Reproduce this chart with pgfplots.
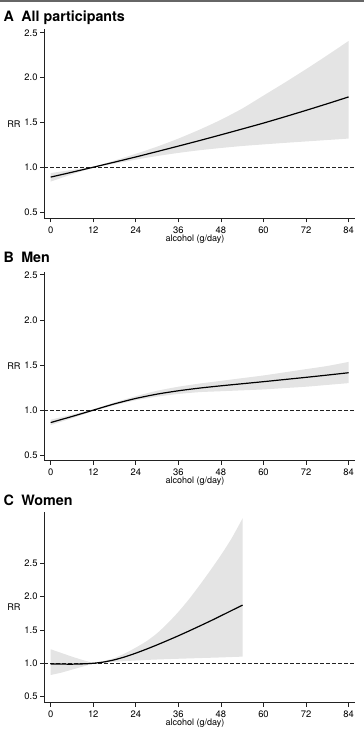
\documentclass[border=0pt]{standalone}
\usepackage{fontspec}
\setmainfont{TeX Gyre Heros}
\usepackage{pgfplots}
\pgfplotsset{compat=1.18}
\usepgfplotslibrary{fillbetween}
\definecolor{band}{HTML}{E4E4E4}
\definecolor{axcol}{HTML}{222222}
\pgfplotsset{
  panel/.style={
    scale only axis, width=310.7pt,
    xmin=-1.8, xmax=85.8,
    axis x line*=bottom, axis y line*=left,
    axis line style={line width=0.8pt, axcol, -},
    xtick={0,12,...,84},
    ytick={0.5,1.0,1.5,2.0,2.5},
    tick align=outside, major tick length=4pt,
    tick style={line width=0.8pt, axcol},
    /pgf/number format/assume math mode=true,
    tick label style={font=\fontsize{9.4}{10}\selectfont},
    y tick label style={/pgf/number format/fixed, /pgf/number format/fixed zerofill, /pgf/number format/precision=1},
    xticklabel style={anchor=north, inner sep=0pt, yshift=-4.4pt},
    yticklabel style={anchor=east, inner sep=0pt, xshift=-2.6pt},
    xlabel={alcohol (g/day)},
    xlabel style={at={(rel axis cs:0.485,0)}, anchor=base, yshift=-23.2pt, font=\fontsize{9}{10}\selectfont},
    ylabel={RR},
    ylabel style={rotate=-90, at={(rel axis cs:0,0.5)}, anchor=center, xshift=-30.3pt, font=\fontsize{9.2}{10}\selectfont},
    clip=false,
  },
  ci/.style={draw=none, smooth, tension=0.4},
  est/.style={black, line width=1.2pt, smooth, tension=0.4},
  ref/.style={axcol, line width=0.8pt, dash pattern=on 3.5pt off 2.5pt},
}
\begin{document}
\begin{tikzpicture}[x=1pt,y=1pt]
\path (0,0) rectangle (364,739);
\fill[black!60] (0,737.4) rectangle (364,739);

% Panel A
\begin{axis}[panel, at={(44.3pt,520.7pt)}, anchor=south west, height=189pt, ymin=0.43, ymax=2.54]
\addplot[ci, name path=up] coordinates {(0,0.935) (6,0.97) (12,1.005) (18,1.075) (24,1.15) (30,1.23) (36,1.32) (42,1.42) (48,1.53) (54,1.655) (60,1.80) (66,1.945) (72,2.095) (78,2.25) (84,2.41)};
\addplot[ci, name path=lo] coordinates {(0,0.84) (6,0.92) (12,0.995) (18,1.04) (24,1.085) (30,1.125) (36,1.16) (42,1.19) (48,1.215) (54,1.237) (60,1.255) (66,1.272) (72,1.288) (78,1.304) (84,1.32)};
\addplot[band] fill between[of=up and lo];
\addplot[ref] coordinates {(-1.8,1) (85.8,1)};
\addplot[est] coordinates {(0,0.89) (6,0.9445) (12,1.0) (18,1.057) (24,1.115) (30,1.175) (36,1.236) (42,1.298) (48,1.362) (54,1.427) (60,1.493) (66,1.563) (72,1.635) (78,1.709) (84,1.785)};
\end{axis}

% Panel B
\begin{axis}[panel, at={(44.3pt,278.3pt)}, anchor=south west, height=189pt, ymin=0.44, ymax=2.535]
\addplot[ci, name path=up] coordinates {(0,0.895) (6,0.95) (12,1.01) (18,1.085) (24,1.155) (30,1.215) (36,1.26) (42,1.295) (48,1.325) (54,1.355) (60,1.385) (66,1.42) (72,1.455) (78,1.49) (84,1.535)};
\addplot[ci, name path=lo] coordinates {(0,0.835) (6,0.91) (12,0.99) (18,1.055) (24,1.11) (30,1.15) (36,1.18) (42,1.20) (48,1.21) (54,1.22) (60,1.23) (66,1.245) (72,1.26) (78,1.28) (84,1.30)};
\addplot[band] fill between[of=up and lo];
\addplot[ref] coordinates {(-1.8,1) (85.8,1)};
\addplot[est] coordinates {(0,0.863) (6,0.93) (12,1.0) (18,1.07) (24,1.13) (30,1.178) (36,1.215) (42,1.245) (48,1.27) (54,1.293) (60,1.316) (66,1.34) (72,1.364) (78,1.389) (84,1.415)};
\end{axis}

% Panel C
\begin{axis}[panel, at={(44.3pt,36.3pt)}, anchor=south west, height=191pt, ymin=0.41, ymax=3.27]
\addplot[ci, name path=up] coordinates {(0,1.21) (3,1.155) (6,1.10) (9,1.05) (12,1.01) (15,1.035) (18,1.08) (21,1.15) (24,1.235) (27,1.33) (30,1.45) (33,1.60) (36,1.77) (39,1.96) (42,2.17) (45,2.39) (48,2.62) (51,2.87) (54.1,3.17)};
\addplot[ci, name path=lo] coordinates {(0,0.825) (3,0.86) (6,0.905) (9,0.95) (12,0.995) (15,1.01) (18,1.022) (21,1.033) (24,1.042) (27,1.05) (30,1.057) (36,1.068) (42,1.078) (48,1.088) (54.1,1.10)};
\addplot[band] fill between[of=up and lo];
\addplot[ref] coordinates {(-1.8,1) (85.8,1)};
\addplot[est] coordinates {(0,0.99) (3,0.988) (6,0.987) (9,0.991) (12,1.0) (15,1.0195) (18,1.0525) (21,1.0975) (24,1.152) (27,1.212) (30,1.276) (33,1.343) (36,1.412) (39,1.484) (42,1.558) (45,1.633) (48,1.711) (51,1.790) (54.1,1.872)};
\end{axis}

\node[anchor=base west, inner sep=0pt, font=\fontsize{14.3}{16}\bfseries\selectfont] at (3.3,717.3) {A\hspace{7.5pt}All participants};
\node[anchor=base west, inner sep=0pt, font=\fontsize{14.3}{16}\bfseries\selectfont] at (3.3,476.0) {B\hspace{7.5pt}Men};
\node[anchor=base west, inner sep=0pt, font=\fontsize{14.3}{16}\bfseries\selectfont] at (3.3,233.0) {C\hspace{7.5pt}Women};
\end{tikzpicture}
\end{document}
